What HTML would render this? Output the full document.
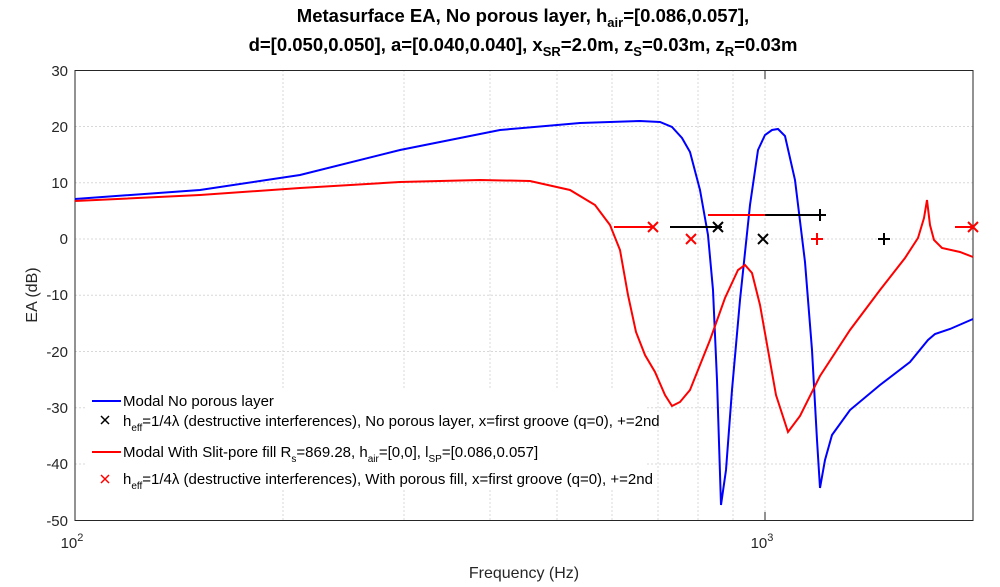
<!DOCTYPE html>
<html><head><meta charset="utf-8"><style>body{margin:0;background:#fff}svg{display:block;font-family:"Liberation Sans",Arial,sans-serif}</style></head><body>
<svg width="1000" height="587" viewBox="0 0 1000 587">
<rect width="1000" height="587" fill="#fff"/>
<g stroke="#d8d8d8" stroke-width="1" stroke-dasharray="2,2">
<line x1="283" y1="70" x2="283" y2="520"/><line x1="404" y1="70" x2="404" y2="520"/><line x1="490" y1="70" x2="490" y2="520"/><line x1="557" y1="70" x2="557" y2="520"/><line x1="612" y1="70" x2="612" y2="520"/><line x1="658" y1="70" x2="658" y2="520"/><line x1="698" y1="70" x2="698" y2="520"/><line x1="733" y1="70" x2="733" y2="520"/><line x1="765" y1="70" x2="765" y2="520"/>
<line x1="75" y1="126.5" x2="973" y2="126.5"/><line x1="75" y1="182.75" x2="973" y2="182.75"/><line x1="75" y1="239" x2="973" y2="239"/><line x1="75" y1="295.25" x2="973" y2="295.25"/><line x1="75" y1="351.5" x2="973" y2="351.5"/><line x1="75" y1="407.75" x2="973" y2="407.75"/><line x1="75" y1="464" x2="973" y2="464"/>
</g>
<rect x="75" y="70.5" width="898" height="450" fill="none" stroke="#262626" stroke-width="1"/>
<g stroke="#262626"><line x1="765" y1="520" x2="765" y2="512"/><line x1="765" y1="71" x2="765" y2="79"/></g>
<g font-size="15" fill="#262626" text-anchor="end">
<text x="68" y="76">30</text><text x="68" y="132">20</text><text x="68" y="188">10</text><text x="68" y="244">0</text><text x="68" y="300">-10</text><text x="68" y="357">-20</text><text x="68" y="413">-30</text><text x="68" y="469">-40</text><text x="68" y="526">-50</text>
</g>
<g font-size="15" fill="#262626" text-anchor="middle">
<text x="72" y="548">10<tspan font-size="11" dy="-7">2</tspan></text>
<text x="762" y="548">10<tspan font-size="11" dy="-7">3</tspan></text>
<text x="524" y="578" font-size="16">Frequency (Hz)</text>
<text transform="translate(37,295) rotate(-90)" font-size="16">EA (dB)</text>
</g>
<g font-size="18.5" font-weight="bold" fill="#000" text-anchor="middle">
<text x="523" y="22">Metasurface EA, No porous layer, h<tspan font-size="13" dy="5">air</tspan><tspan dy="-5">=[0.086,0.057],</tspan></text>
<text x="523" y="51">d=[0.050,0.050], a=[0.040,0.040], x<tspan font-size="13" dy="5">SR</tspan><tspan dy="-5">=2.0m, z</tspan><tspan font-size="13" dy="5">S</tspan><tspan dy="-5">=0.03m, z</tspan><tspan font-size="13" dy="5">R</tspan><tspan dy="-5">=0.03m</tspan></text>
</g>
<rect x="86" y="390" width="560" height="100" fill="#fff"/>
<polyline fill="none" stroke="#0000ff" stroke-width="2" points="75,199 200,190 300,175 400,150 500,130 580,123 640,121 660,122 672,127 682,138 690,152 700,190 708,235 713,290 717,380 721,505 726,470 732,390 740,300 750,205 758,150 765,135 772,130 778,129 785,136 795,180 805,262 812,350 817,440 820,488 825,460 832,435 850,410 880,385 910,362 928,340 935,334 950,329 973,319"/>
<polyline fill="none" stroke="#ff0000" stroke-width="2" points="75,201 200,195 300,188 400,182 480,180 530,181 570,190 595,205 610,225 620,250 628,295 636,332 645,355 655,372 665,395 672,406 680,402 690,390 710,340 725,298 738,270 745,265 752,273 760,305 768,350 776,395 788,432 800,416 820,376 850,330 880,290 905,258 918,238 924,218 927,200 930,225 934,240 942,248 960,252 973,257"/>
<g stroke-width="2">
<line x1="614" y1="227" x2="653" y2="227" stroke="#ff0000"/>
<line x1="670" y1="227" x2="722" y2="227" stroke="#000"/>
<line x1="708" y1="215" x2="765" y2="215" stroke="#ff0000"/>
<line x1="765" y1="215" x2="824" y2="215" stroke="#000"/>
<line x1="955" y1="227" x2="973" y2="227" stroke="#ff0000"/>
</g>
<g stroke-width="2" fill="none">
<path d="M648,222l10,10M658,222l-10,10" stroke="#ff0000"/>
<path d="M686,234l10,10M696,234l-10,10" stroke="#ff0000"/>
<path d="M713,222l10,10M723,222l-10,10" stroke="#000"/>
<path d="M758,234l10,10M768,234l-10,10" stroke="#000"/>
<path d="M968,222l10,10M978,222l-10,10" stroke="#ff0000"/>
<path d="M814,215h12M820,209v12" stroke="#000"/>
<path d="M878,239h12M884,233v12" stroke="#000"/>
<path d="M811,239h12M817,233v12" stroke="#ff0000"/>
</g>
<g font-size="15" fill="#000">
<line x1="92" y1="401" x2="121" y2="401" stroke="#0000ff" stroke-width="2"/>
<text x="123" y="406">Modal No porous layer</text>
<path d="M101,416l8,8M109,416l-8,8" stroke="#000" stroke-width="1.5"/>
<text x="123" y="426">h<tspan font-size="10" dy="5">eff</tspan><tspan dy="-5">=1/4λ (destructive interferences), No porous layer, x=first groove (q=0), +=2nd</tspan></text>
<line x1="92" y1="452" x2="121" y2="452" stroke="#ff0000" stroke-width="2"/>
<text x="123" y="457">Modal With Slit-pore fill R<tspan font-size="10" dy="5">s</tspan><tspan dy="-5">=869.28, h</tspan><tspan font-size="10" dy="5">air</tspan><tspan dy="-5">=[0,0], l</tspan><tspan font-size="10" dy="5">SP</tspan><tspan dy="-5">=[0.086,0.057]</tspan></text>
<path d="M101,475l8,8M109,475l-8,8" stroke="#ff0000" stroke-width="1.5"/>
<text x="123" y="484">h<tspan font-size="10" dy="5">eff</tspan><tspan dy="-5">=1/4λ (destructive interferences), With porous fill, x=first groove (q=0), +=2nd</tspan></text>
</g>
</svg>
</body></html>
